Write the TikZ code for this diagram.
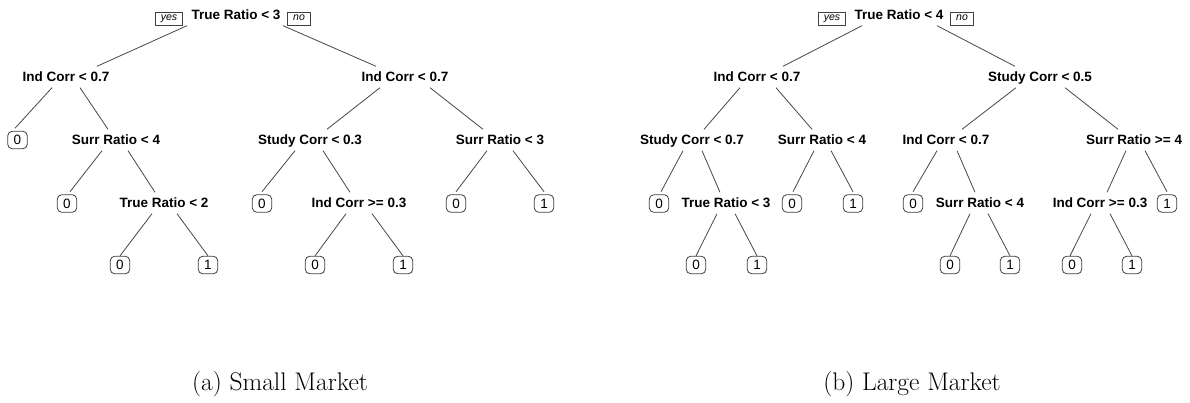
\documentclass[tikz,border=0pt]{standalone}
\usepackage{fontspec}
\newfontfamily\treefont{Liberation Sans}
\begin{document}
\begin{tikzpicture}[x=1pt,y=-1pt,
  split/.style={font=\treefont\bfseries\fontsize{13.5}{16}\selectfont,
    inner sep=0pt, text height=9.7pt, text depth=0pt, minimum height=21pt},
  leaf/.style={draw=black!75, line width=0.8pt, rounded corners=4.5pt,
    font=\treefont\fontsize{13.5}{16}\selectfont, inner sep=0pt,
    text height=9.7pt, text depth=0pt, minimum width=19.5pt, minimum height=17.5pt,
    outer sep=3pt},
  low/.style={outer sep=0.4pt},
  tag/.style={draw=black!75, line width=0.7pt,
    font=\treefont\itshape\fontsize{10.5}{12}\selectfont,
    inner xsep=5.5pt, inner ysep=0pt, text height=6pt, text depth=2.5pt,
    minimum height=13pt},
  branch/.style={draw=black!72, line width=0.8pt},
  caption/.style={font=\fontsize{25.5}{30}\selectfont, anchor=base}]
\useasboundingbox (0,0) rectangle (1190,403);
\newcommand\treeedge[4]{\draw[branch] ([xshift=#2pt]#1.south) -- ([xshift=#4pt]#3.north);}

% ---- left tree ----
\node[split] (L0) at (236,15) {True Ratio < 3};
\node[tag] (Lyes) at (169,18.5) {yes};
\node[tag] (Lno) at (299,18.5) {no};
\node[split] (L1) at (66,77) {Ind Corr < 0.7};
\node[split] (L2) at (405,77) {Ind Corr < 0.7};
\node[leaf] (L1a) at (17.5,140) {0};
\node[split] (L1b) at (116,140) {Surr Ratio < 4};
\node[leaf] (L1b0) at (67,203.5) {0};
\node[split] (L1b1) at (164,203) {True Ratio < 2};
\node[leaf,low] (L1b1a) at (120,265) {0};
\node[leaf,low] (L1b1b) at (208,265) {1};
\node[split] (L2a) at (310,140) {Study Corr < 0.3};
\node[split] (L2b) at (500,140) {Surr Ratio < 3};
\node[leaf] (L2a0) at (262,203.5) {0};
\node[split] (L2a1) at (359,203) {Ind Corr >= 0.3};
\node[leaf,low] (L2a1a) at (315,265) {0};
\node[leaf,low] (L2a1b) at (403,265) {1};
\node[leaf] (L2b0) at (456,203.5) {0};
\node[leaf] (L2b1) at (544,203.5) {1};

\treeedge{L0}{-49}{L1}{31}
\treeedge{L0}{47}{L2}{-29}
\treeedge{L1}{-14}{L1a}{-2.5}
\treeedge{L1}{14}{L1b}{-8}
\treeedge{L2}{-25}{L2a}{17}
\treeedge{L2}{25}{L2b}{-17}
\treeedge{L1b}{-14}{L1b0}{3}
\treeedge{L1b}{12}{L1b1}{-9}
\treeedge{L1b1}{-12}{L1b1a}{0}
\treeedge{L1b1}{13}{L1b1b}{0}
\treeedge{L2a}{-15}{L2a0}{0}
\treeedge{L2a}{13}{L2a1}{-9}
\treeedge{L2a1}{-13}{L2a1a}{0}
\treeedge{L2a1}{13}{L2a1b}{0}
\treeedge{L2b}{-13}{L2b0}{0}
\treeedge{L2b}{13}{L2b1}{0}

% ---- right tree ----
\node[split] (R0) at (899,15) {True Ratio < 4};
\node[tag] (Ryes) at (832,18.5) {yes};
\node[tag] (Rno) at (962,18.5) {no};
\node[split] (R1) at (757,77) {Ind Corr < 0.7};
\node[split] (R2) at (1040,77) {Study Corr < 0.5};
\node[split] (R1a) at (692,140) {Study Corr < 0.7};
\node[split] (R1b) at (822,140) {Surr Ratio < 4};
\node[leaf] (R1a0) at (659,203.5) {0};
\node[split] (R1a1) at (726,203) {True Ratio < 3};
\node[leaf,low] (R1a1a) at (696,265) {0};
\node[leaf,low] (R1a1b) at (757,265) {1};
\node[leaf] (R1b0) at (792,203.5) {0};
\node[leaf] (R1b1) at (853,203.5) {1};
\node[split] (R2a) at (946,140) {Ind Corr < 0.7};
\node[split] (R2b) at (1134,140) {Surr Ratio >= 4};
\node[leaf] (R2a0) at (913,203.5) {0};
\node[split] (R2a1) at (980,203) {Surr Ratio < 4};
\node[leaf,low] (R2a1a) at (950,265) {0};
\node[leaf,low] (R2a1b) at (1010,265) {1};
\node[split] (R2b0) at (1100,203) {Ind Corr >= 0.3};
\node[leaf] (R2b1) at (1167,203.5) {1};
\node[leaf,low] (R2b0a) at (1072,265) {0};
\node[leaf,low] (R2b0b) at (1132,265) {1};

\treeedge{R0}{-37}{R1}{26}
\treeedge{R0}{38}{R2}{-25}
\treeedge{R1}{-17}{R1a}{12}
\treeedge{R1}{19}{R1b}{-10}
\treeedge{R2}{-24}{R2a}{16}
\treeedge{R2}{25}{R2b}{-16}
\treeedge{R1a}{-9}{R1a0}{2}
\treeedge{R1a}{10}{R1a1}{-6}
\treeedge{R1a1}{-9}{R1a1a}{0}
\treeedge{R1a1}{9}{R1a1b}{0}
\treeedge{R1b}{-8}{R1b0}{1}
\treeedge{R1b}{9}{R1b1}{0}
\treeedge{R2a}{-9}{R2a0}{0}
\treeedge{R2a}{11}{R2a1}{-5}
\treeedge{R2a1}{-10}{R2a1a}{0}
\treeedge{R2a1}{8}{R2a1b}{0}
\treeedge{R2b}{-8}{R2b0}{7}
\treeedge{R2b}{11}{R2b1}{0}
\treeedge{R2b0}{-9}{R2b0a}{-2}
\treeedge{R2b0}{10}{R2b0b}{0}

% ---- captions ----
\node[caption] (capA) at (280,390) {(a) Small Market};
\node[caption] (capB) at (912,390) {(b) Large Market};
\end{tikzpicture}
\end{document}
